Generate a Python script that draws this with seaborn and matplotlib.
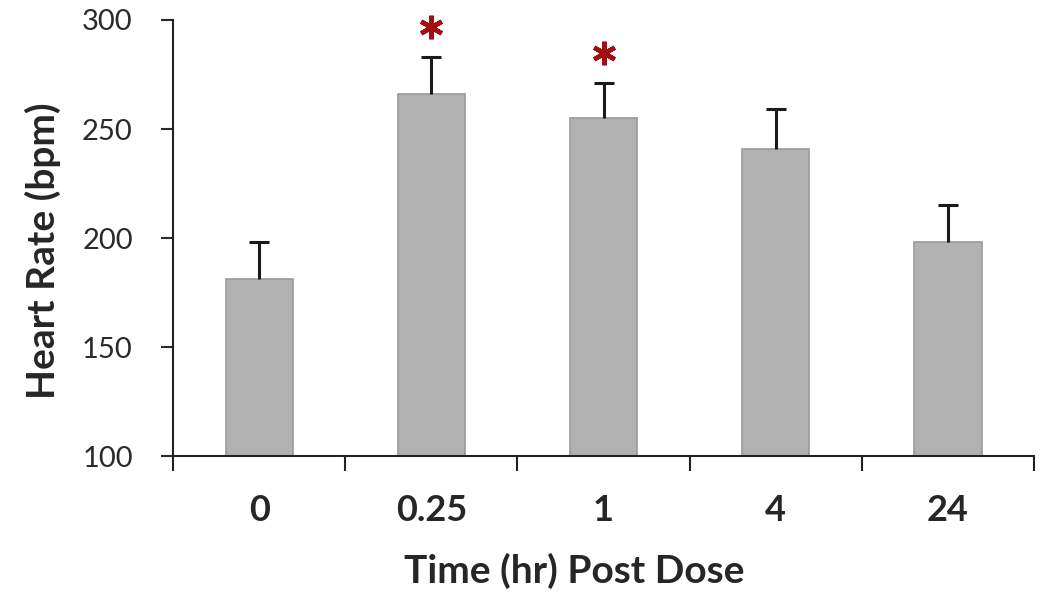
import numpy as np
import pandas as pd
import matplotlib
matplotlib.use('Agg')
import matplotlib.pyplot as plt
from matplotlib.ticker import FixedLocator
import seaborn as sns

# values
times = ['0', '0.25', '1', '4', '24']
heart_rate = [181, 266, 255, 241, 198]
err_up = [17, 17, 16, 18, 17]
signif = [False, True, True, False, False]

df = pd.DataFrame({'time': times, 'hr': heart_rate})

sns.set_style('white')
plt.rcParams['font.family'] = ['Lato', 'DejaVu Sans']

fig = plt.figure(figsize=(10.5, 6.06), dpi=100)
ax = fig.add_axes([0.1648, 0.2475, 0.82, 0.7195])

sns.barplot(data=df, x='time', y='hr', order=times, color='#b1b1b1',
            saturation=1, width=0.39, edgecolor='#9a9a9a', linewidth=1.2,
            errorbar=None, ax=ax)

xpos = np.arange(len(times))
eb = ax.errorbar(xpos, heart_rate, yerr=[np.zeros(len(err_up)), err_up], fmt='none',
                 ecolor='#1a1a1a', elinewidth=2.2, capsize=7.5, capthick=2.2)
# only the upper cap, like the original
eb[1][0].set_visible(False)

# significance stars
sx = [xpos[i] for i, s in enumerate(signif) if s]
sy = [heart_rate[i] + err_up[i] + 14 for i, s in enumerate(signif) if s]
ax.plot(sx, sy, linestyle='none', marker=(6, 2, 0), markersize=17,
        markeredgewidth=3.3, color='#a01010', clip_on=False)

ax.set_ylim(100, 300)
ax.set_xlim(-0.5, len(times) - 0.5)
ax.set_yticks([100, 150, 200, 250, 300])
ax.tick_params(axis='y', which='major', direction='out', length=9, width=1.5,
               colors='#2a2a2a', labelsize=21, pad=20, left=True)
ax.xaxis.set_minor_locator(FixedLocator(np.arange(-0.5, len(times), 1.0)))
ax.tick_params(axis='x', which='minor', direction='out', length=11, width=1.5,
               color='#222222', bottom=True)
ax.tick_params(axis='x', which='major', length=0, labelsize=26, pad=27)
for lab in ax.get_xticklabels():
    lab.set_fontweight('bold')

for sp in ['top', 'right']:
    ax.spines[sp].set_visible(False)
for sp in ['left', 'bottom']:
    ax.spines[sp].set_linewidth(1.5)
    ax.spines[sp].set_color('#222222')

ax.set_xlabel('Time (hr) Post Dose', fontsize=28, fontweight='bold')
ax.xaxis.set_label_coords(0.466, -0.222)
ax.set_ylabel('Heart Rate (bpm)', fontsize=28, fontweight='bold')
ax.yaxis.set_label_coords(-0.13, 0.472)

fig.savefig('out.png', dpi=100)
